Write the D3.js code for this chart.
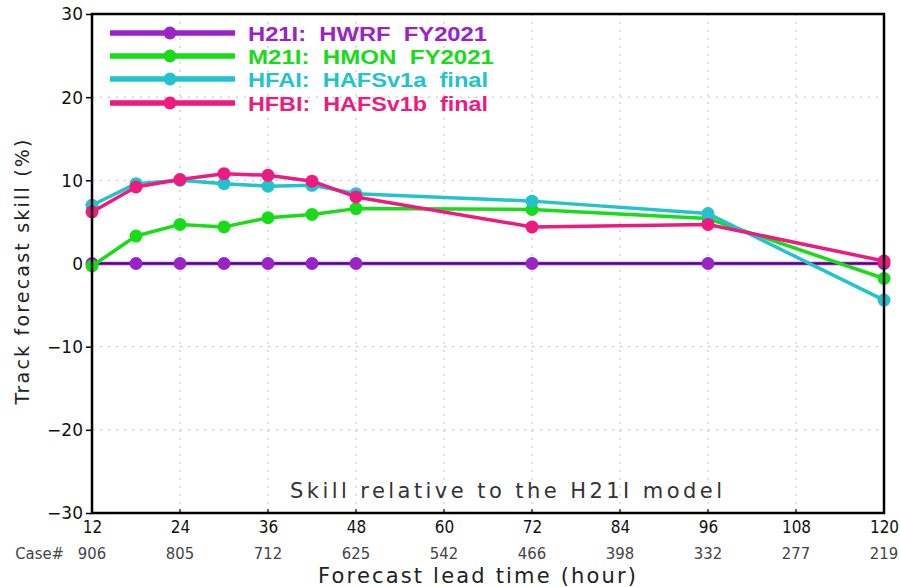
<!DOCTYPE html>
<html><head><meta charset="utf-8">
<script src="https://cdn.jsdelivr.net/npm/d3@7"></script>
<style>body{margin:0;background:#fff}svg{display:block}</style>
</head><body>
<svg id="c" width="900" height="587"></svg>
<script>
const leadTimes = [12,18,24,30,36,42,48,72,96,120];
const h21i = [0,0,0,0,0,0,0,0,0,0];
const m21i = [-0.3,3.3,4.7,4.4,5.5,5.9,6.6,6.5,5.4,-1.8];
const hfai = [7.0,9.6,10.0,9.6,9.3,9.4,8.4,7.5,6.0,-4.4];
const hfbi = [6.2,9.2,10.1,10.8,10.6,9.9,8.0,4.4,4.7,0.3];
const seriesNames = ["H21I:  HWRF  FY2021","M21I:  HMON  FY2021","HFAI:  HAFSv1a  final","HFBI:  HAFSv1b  final"];
const seriesColors = ["#9a22c8","#18dc18","#22c3cc","#ee1a80"];
const xTicks = [12,24,36,48,60,72,84,96,108,120];
const caseCounts = ["906","805","712","625","542","466","398","332","277","219"];
const yTicks = [-30,-20,-10,0,10,20,30];

const svg = d3.select("#c");
const L=92, R=884, T=14, B=513;
const x = d3.scaleLinear().domain([12,120]).range([L,R]);
const y = d3.scaleLinear().domain([-30,30]).range([B,T]);
const font = "'DejaVu Sans', sans-serif";

// grid
const g = svg.append("g");
g.selectAll("line.vg").data(xTicks.slice(1,-1)).join("line")
  .attr("x1",d=>x(d)).attr("x2",d=>x(d)).attr("y1",T).attr("y2",B)
  .attr("stroke","#bbb").attr("stroke-width",1).attr("stroke-dasharray","2,6");
g.selectAll("line.hg").data(yTicks.filter(d=>d!==-30&&d!==30)).join("line")
  .attr("x1",L).attr("x2",R).attr("y1",d=>y(d)).attr("y2",d=>y(d))
  .attr("stroke","#bbb").attr("stroke-width",1).attr("stroke-dasharray","2,6");

// axes
const yAxis = d3.axisLeft(y).tickValues(yTicks).tickSize(6).tickPadding(3)
  .tickFormat(d=>d<0?"\u2212"+Math.abs(d):d);
const ya = svg.append("g").attr("transform",`translate(${L},0)`).call(yAxis);
ya.select(".domain").remove();
ya.selectAll("line").attr("stroke","#000").attr("stroke-width",1.5);
ya.selectAll("text").attr("font-family",font).attr("font-size",17).attr("fill","#111").attr("dy","0.35em");

const xAxis = d3.axisBottom(x).tickValues(xTicks).tickSize(0).tickPadding(8);
const xa = svg.append("g").attr("transform",`translate(0,${B})`).call(xAxis);
xa.select(".domain").remove();
xa.selectAll("text").attr("font-family",font).attr("font-size",17).attr("fill","#111")
  .style("font-stretch","condensed");
svg.append("g").selectAll("line").data(xTicks).join("line")
  .attr("x1",d=>x(d)).attr("x2",d=>x(d)).attr("y1",B-4).attr("y2",B)
  .attr("stroke","#000").attr("stroke-width",1.2);

// case counts
svg.append("g").selectAll("text").data(xTicks).join("text")
  .attr("x",d=>x(d)).attr("y",559).attr("text-anchor","middle")
  .attr("font-family",font).attr("font-size",16.5).attr("fill","#444")
  .style("font-stretch","condensed").text((d,i)=>caseCounts[i]);
svg.append("text").attr("x",x(12)-28).attr("y",559).attr("text-anchor","end")
  .attr("font-family",font).attr("font-size",16.5).attr("fill","#444")
  .style("font-stretch","condensed").text("Case#");

// titles
svg.append("text").attr("x",477).attr("y",583).attr("text-anchor","middle")
  .attr("font-family",font).attr("font-size",21).attr("fill","#222")
  .attr("textLength",318).attr("lengthAdjust","spacing").text("Forecast lead time (hour)");
svg.append("text").attr("transform","translate(29,272) rotate(-90)").attr("text-anchor","middle")
  .attr("font-family",font).attr("font-size",19).attr("fill","#222")
  .attr("textLength",265).attr("lengthAdjust","spacing").text("Track forecast skill (%)");
svg.append("text").attr("x",506).attr("y",498).attr("text-anchor","middle")
  .attr("font-family",font).attr("font-size",21).attr("fill","#333")
  .attr("textLength",432).attr("lengthAdjust","spacing").text("Skill relative to the H21I model");

// series
const allSeries = [h21i,m21i,hfai,hfbi];
const line = d3.line().x((d,i)=>x(leadTimes[i])).y(d=>y(d));
[0,1,2,3].forEach(k=>{
  const vals = allSeries[k];
  const sg = svg.append("g");
  sg.append("path").datum(vals).attr("d",line).attr("fill","none")
    .attr("stroke",seriesColors[k]).attr("stroke-width",3.5).attr("stroke-linejoin","round");
  if(k===0){
    sg.append("path").datum(vals).attr("d",line).attr("fill","none")
      .attr("stroke","#4a0a6a").attr("stroke-width",1.5);
  }
  sg.selectAll("circle").data(vals).join("circle")
    .attr("cx",(d,i)=>x(leadTimes[i])).attr("cy",d=>y(d)).attr("r",6.5)
    .attr("fill",seriesColors[k]);
});

// frame
svg.append("rect").attr("x",L).attr("y",T).attr("width",R-L).attr("height",B-T)
  .attr("fill","none").attr("stroke","#000").attr("stroke-width",2.5);

// legend
const legY = [33,56,79,103];
const lg = svg.append("g");
seriesNames.forEach((nm,i)=>{
  lg.append("line").attr("x1",110).attr("x2",235).attr("y1",legY[i]).attr("y2",legY[i])
    .attr("stroke",seriesColors[i]).attr("stroke-width",5.5);
  lg.append("circle").attr("cx",170).attr("cy",legY[i]).attr("r",6.5).attr("fill",seriesColors[i]);
  lg.append("text").attr("x",248).attr("y",legY[i]+8).attr("font-family","'Liberation Sans', Arial, sans-serif")
    .attr("font-weight","bold").attr("font-size",21).attr("fill",seriesColors[i])
    .style("white-space","pre")
    .attr("textLength",[239,246,240,240][i]).attr("lengthAdjust","spacingAndGlyphs").text(nm);
});
</script>
</body></html>
